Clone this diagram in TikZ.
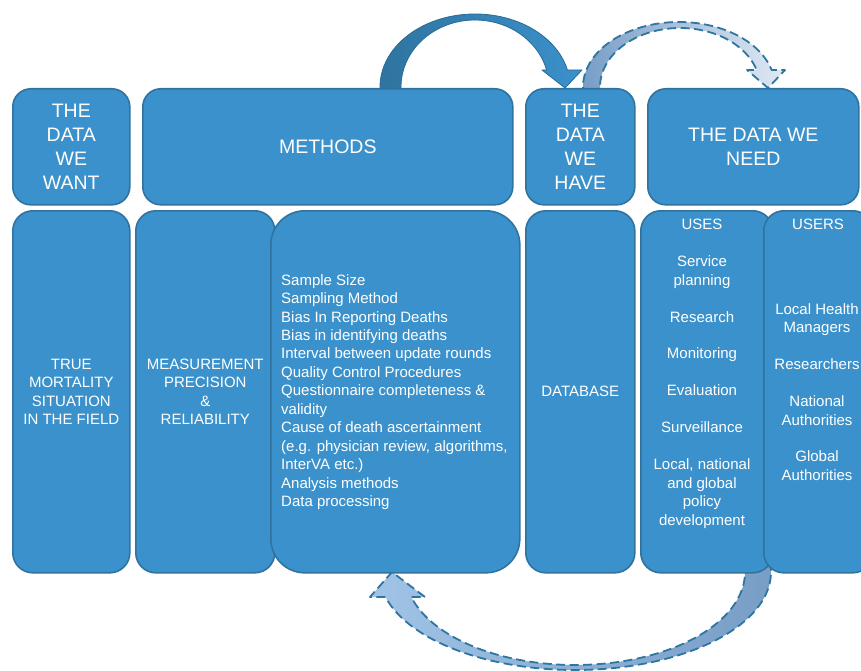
\documentclass[tikz,border=0pt]{standalone}
\usepackage{fontspec}
\setmainfont{Liberation Sans}
\definecolor{boxblue}{RGB}{59,145,203}
\definecolor{boxline}{RGB}{47,115,158}
\definecolor{arcdark}{RGB}{47,116,160}
\definecolor{arcedge}{RGB}{42,106,148}
\definecolor{dashline}{RGB}{46,117,160}
\definecolor{steel}{RGB}{120,158,198}
\definecolor{mist}{RGB}{224,233,244}
\definecolor{sky}{RGB}{160,195,230}
\definecolor{paleblue}{RGB}{236,241,248}
\tikzset{
  panel/.style={draw=boxline, fill=boxblue, line width=1.6pt, rounded corners=18pt,
    inner sep=0pt, anchor=north west},
  bigtxt/.style={text=white, align=center, font=\fontsize{19.5}{24}\selectfont},
  smalltxt/.style={text=white, align=center, font=\fontsize{15}{18.45}\selectfont},
  dashedarrow/.style={draw=dashline, line width=1.8pt, dash pattern=on 9pt off 4.5pt,
    line join=round},
}
\begin{document}
\begin{tikzpicture}[x=1pt,y=-1pt]
\useasboundingbox (0,0) rectangle (861,671);
\clip (0,0) rectangle (861,671);

% solid curved arrow: METHODS -> THE DATA WE HAVE
\path[left color=arcdark, right color=boxblue, draw=arcedge, line width=0.8pt, line join=round]
  plot[domain=172:346.5, samples=80] ({475+95*cos(\x)},{87+73*sin(\x)})
  -- (582,70) -- (565,88) -- (542,70)
  -- plot[domain=345.3:172, samples=80] ({475+74*cos(\x)},{87+67*sin(\x)})
  -- cycle;

% dashed curved arrow: THE DATA WE HAVE -> THE DATA WE NEED
\path[left color=steel, right color=mist, dashedarrow]
  plot[domain=172:344.8, samples=80] ({679+96*cos(\x)},{87+65*sin(\x)})
  -- (785,70) -- (768,88) -- (747,70)
  -- plot[domain=343.3:172, samples=80] ({680+80*cos(\x)},{87+59*sin(\x)})
  -- cycle;

% dashed curved arrow along the bottom: uses/users -> methods
\path[left color=sky, middle color=paleblue, right color=steel, dashedarrow]
  plot[domain=-6:165.2, samples=100] ({575+196*cos(\x)},{572+98*sin(\x)})
  -- (370,597) -- (392,572) -- (425,597)
  -- plot[domain=164.4:-6, samples=100] ({575+170*cos(\x)},{572+93*sin(\x)})
  -- cycle;

% top row
\node[panel, bigtxt, minimum width=117pt, minimum height=116pt] (want) at (12,88)
  {THE\\DATA\\WE\\WANT};
\node[panel, bigtxt, minimum width=370pt, minimum height=116pt] (methods) at (142,88)
  {METHODS};
\node[panel, bigtxt, minimum width=109pt, minimum height=116pt] (have) at (525,88)
  {THE\\DATA\\WE\\HAVE};
\node[panel, bigtxt, minimum width=211pt, minimum height=116pt] (need) at (647,88)
  {THE DATA WE\\NEED};

% bottom row
\node[panel, smalltxt, minimum width=117pt, minimum height=362pt, rounded corners=20pt] (truth) at (12,210)
  {TRUE\\MORTALITY\\SITUATION\\IN THE FIELD};
\node[panel, smalltxt, minimum width=139pt, minimum height=362pt, rounded corners=20pt] (precision) at (135,210)
  {MEASUREMENT\\PRECISION\\\&\\RELIABILITY};
\node[panel, minimum width=249pt, minimum height=362pt, rounded corners=34pt] (factors) at (270,210) {};
\node[smalltxt, align=left, anchor=west, inner sep=0pt] (factorlist) at (281,392)
  {Sample Size\\
   Sampling Method\\
   Bias In Reporting Deaths\\
   Bias in identifying deaths\\
   Interval between update rounds\\
   Quality Control Procedures\\
   Questionnaire completeness \&\\
   validity\\
   Cause of death ascertainment\\
   (e.g. physician review, algorithms,\\
   InterVA etc.)\\
   Analysis methods\\
   Data processing};
\node[panel, smalltxt, minimum width=109pt, minimum height=362pt, rounded corners=20pt] (database) at (525,210)
  {DATABASE};
\node[panel, minimum width=132pt, minimum height=362pt, rounded corners=20pt] (uses) at (640,210) {};
\node[panel, minimum width=109pt, minimum height=362pt, rounded corners=20pt] (users) at (763,210) {};

\node[smalltxt, inner sep=0pt] (useshead) at (702,224.5) {USES};
\node[smalltxt, inner sep=0pt] (uselist) at (702,392)
  {Service\\planning\\[18.45pt]Research\\[18.45pt]Monitoring\\[18.45pt]Evaluation\\[18.45pt]%
   Surveillance\\[18.45pt]Local, national\\and global\\policy\\development};
\node[smalltxt, inner sep=0pt] (usershead) at (818,224.5) {USERS};
\node[smalltxt, inner sep=0pt] (userlist) at (817,392)
  {Local Health\\Managers\\[18.45pt]Researchers\\[18.45pt]National\\Authorities\\[18.45pt]%
   Global\\Authorities};
\end{tikzpicture}
\end{document}
